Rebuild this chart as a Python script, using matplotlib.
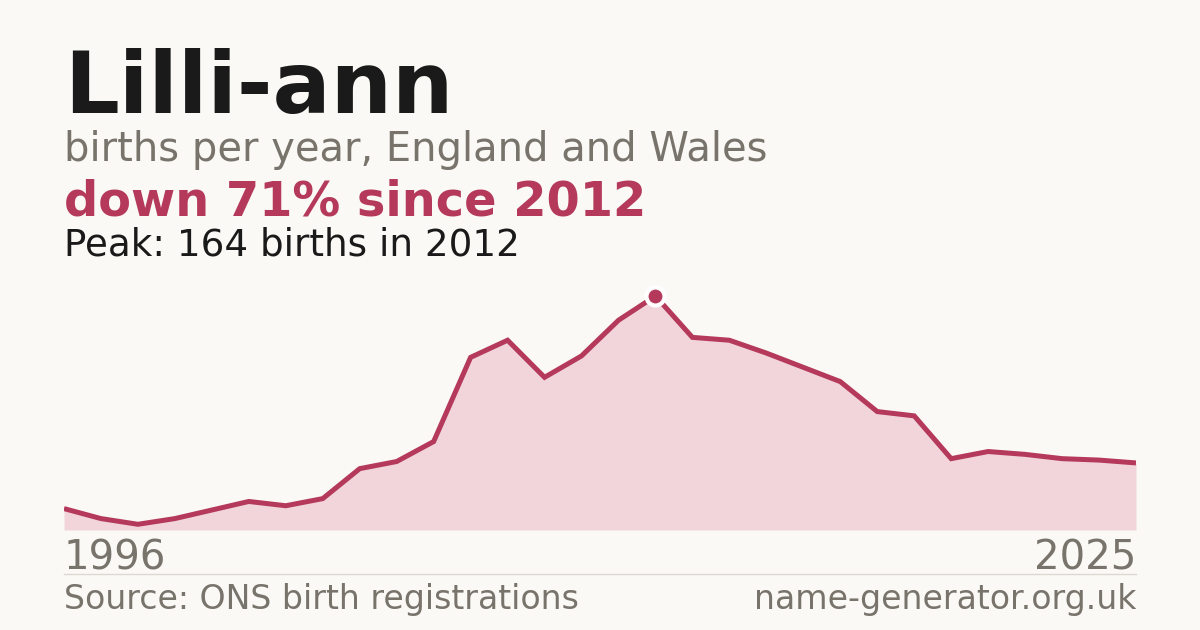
import numpy as np
import matplotlib.pyplot as plt

years = list(range(1996, 2026))
births = [15, 8, 4, 8, 14, 20, 17, 22, 43, 48, 62, 121, 133, 107, 122, 147,
          164, 135, 133, 124, 114, 104, 83, 80, 50, 55, 53, 50, 49, 47]

name = "Lilli-ann"
peak_year = years[int(np.argmax(births))]
peak_val = max(births)
change = round((1 - births[-1] / peak_val) * 100)

bg = '#faf9f5'
red = '#b5395a'
grey = '#78736b'

fig = plt.figure(figsize=(12, 6.3), dpi=100, facecolor=bg)

def fy(px):
    return 1 - px / 630

# chart area: 64..1136 px wide, baseline at y=530
ax = fig.add_axes([64 / 1200, 100 / 630, 1072 / 1200, 250 / 630])
ax.set_facecolor(bg)
ax.fill_between(years, births, 0, color='#f1d5db', linewidth=0)
ax.plot(years, births, color=red, linewidth=3.6, solid_joinstyle='miter', solid_capstyle='butt')
ax.plot(peak_year, peak_val, 'o', markersize=13, color=red, markeredgecolor='white',
        markeredgewidth=3, clip_on=False, zorder=5)
ax.set_xlim(years[0], years[-1])
ax.set_ylim(0, peak_val * 250 / 234)
ax.axis('off')

fig.text(64 / 1200, fy(113), name, fontsize=62, fontweight='bold', color='#1a1a1a', va='baseline')
fig.text(64 / 1200, fy(161), "births per year, England and Wales", fontsize=28.8, color=grey, va='baseline')
fig.text(64 / 1200, fy(215), f"down {change}% since {peak_year}", fontsize=34.5, fontweight='bold',
         color=red, va='baseline')
fig.text(64 / 1200, fy(255), f"Peak: {peak_val} births in {peak_year}", fontsize=26.8,
         color='#1a1a1a', va='baseline')

fig.text(64 / 1200, fy(570), str(years[0]), fontsize=29, color=grey, va='baseline')
fig.text(1136 / 1200, fy(570), str(years[-1]), fontsize=29, color=grey, va='baseline', ha='right')
fig.add_artist(plt.Line2D([64 / 1200, 1136 / 1200], [fy(574), fy(574)], color='#dcd9d2', linewidth=1))
fig.text(64 / 1200, fy(609), "Source: ONS birth registrations", fontsize=23.9, color=grey, va='baseline')
fig.text(1136 / 1200, fy(609), "name-generator.org.uk", fontsize=23.9, color=grey, va='baseline', ha='right')

fig.savefig('out.png', dpi=100, facecolor=bg)
